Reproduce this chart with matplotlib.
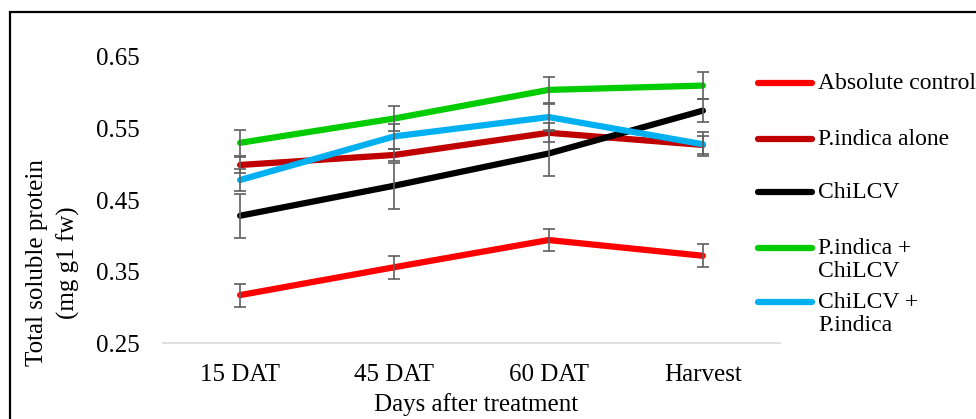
import matplotlib
matplotlib.use('Agg')
import matplotlib.pyplot as plt
from matplotlib.lines import Line2D
from matplotlib.patches import Rectangle

# data
stages = ['15 DAT', '45 DAT', '60 DAT', 'Harvest']
absolute_control = [0.317, 0.356, 0.394, 0.372]
pindica_alone = [0.499, 0.513, 0.544, 0.527]
chilcv = [0.428, 0.470, 0.515, 0.575]
pindica_chilcv = [0.530, 0.564, 0.604, 0.610]
chilcv_pindica = [0.478, 0.539, 0.566, 0.528]

err_control = [0.016, 0.016, 0.016, 0.016]
err_alone = [0.011, 0.009, 0.013, 0.012]
err_chilcv = [0.031, 0.032, 0.032, 0.016]
err_pc = [0.018, 0.017, 0.018, 0.019]
err_cp = [0.016, 0.017, 0.018, 0.017]

series_names = ['Absolute control', 'P.indica alone', 'ChiLCV',
                'P.indica +\nChiLCV', 'ChiLCV +\nP.indica']
colors = ['#FF0000', '#C00000', '#000000', '#00CC00', '#00B0F0']

plt.rcParams['font.family'] = ['Liberation Serif', 'DejaVu Serif']
plt.rcParams['font.size'] = 18

W, H = 976, 419
fig = plt.figure(figsize=(W / 100, H / 100), dpi=100)
ax = fig.add_axes([163 / W, 1 - 343 / H, 617 / W, 286 / H])

x = list(range(len(stages)))
all_vals = [absolute_control, pindica_alone, chilcv, pindica_chilcv, chilcv_pindica]
all_errs = [err_control, err_alone, err_chilcv, err_pc, err_cp]

for vals, errs, c in zip(all_vals, all_errs, colors):
    ax.plot(x, vals, color=c, linewidth=4.5, solid_capstyle='round',
            solid_joinstyle='round', zorder=2)
for vals, errs in zip(all_vals, all_errs):
    ax.errorbar(x, vals, yerr=errs, fmt='none', ecolor='#5f5f5f',
                elinewidth=1.2, capsize=4, capthick=1.2, zorder=3)

ax.set_xlim(-0.5, len(stages) - 0.5)
ax.set_ylim(0.25, 0.65)
ax.set_yticks([0.25, 0.35, 0.45, 0.55, 0.65])
ax.set_yticklabels(['%.2f' % v for v in [0.25, 0.35, 0.45, 0.55, 0.65]])
ax.set_xticks(x)
ax.set_xticklabels(stages)
ax.tick_params(axis='both', length=0)
ax.tick_params(axis='y', pad=17)
ax.tick_params(axis='x', pad=15)
for s in ['top', 'right', 'left']:
    ax.spines[s].set_visible(False)
ax.spines['bottom'].set_color('#d9d9d9')
ax.spines['bottom'].set_linewidth(1.2)

ax.set_xlabel('Days after treatment', va='center')
ax.xaxis.set_label_coords((476 - 163) / 617, (343 - 405) / 286)
ax.set_ylabel('Total soluble protein\n(mg g1 fw)', va='center', ha='center',
              linespacing=1.45)
ax.yaxis.set_label_coords((53 - 163) / 617, (343 - 263) / 286)

# legend drawn by hand, handle level with first text line
leg_y = [83, 139, 192, 248, 302]
for name, c, yy in zip(series_names, colors, leg_y):
    yf = 1 - yy / H
    fig.add_artist(Line2D([758 / W, 812 / W], [yf, yf], transform=fig.transFigure,
                          color=c, linewidth=4.5, solid_capstyle='round'))
    fig.text(818 / W, 1 - (yy - 10) / H, name, ha='left', va='top', fontsize=17,
             linespacing=1.15, transform=fig.transFigure)

# outer chart border (runs off the right and bottom edge)
fig.add_artist(Rectangle((10 / W, -0.5), 1.5, 0.5 + 1 - 12 / H, fill=False,
                         edgecolor='black', linewidth=1.6,
                         transform=fig.transFigure))

fig.savefig('out.png', dpi=100)
